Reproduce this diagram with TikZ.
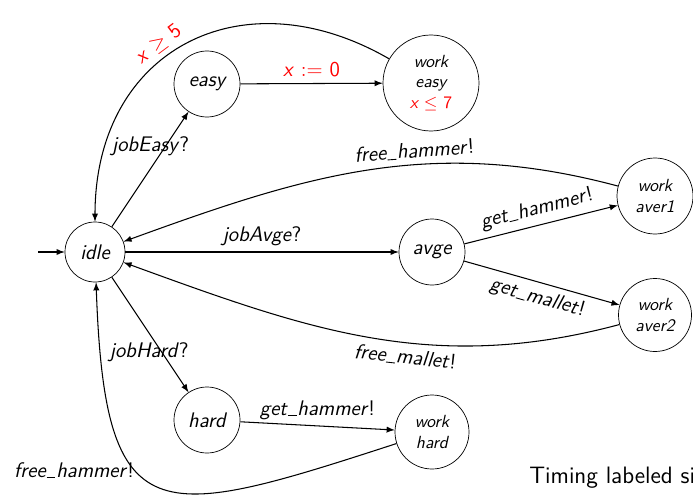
\documentclass[tikz,border=0pt]{standalone}
\usepackage{tikz}
\usetikzlibrary{calc}
\newcommand\act[1]{\textit{#1}}
\newcommand\us{\kern0.04em\rule[-0.4pt]{0.42em}{0.5pt}\kern0.04em}
\definecolor{guard}{rgb}{1.0, 0.0, 0.0}
\newcommand\guard[1]{{\color{guard}#1}}

\begin{document}
\begin{tikzpicture}[font=\fontsize{12}{14}\selectfont\sffamily,
  state/.style={draw,circle,inner sep=0pt,minimum size=#1,font=\fontsize{12}{14}\selectfont\sffamily\itshape},
  work/.style={state=#1,align=center,font=\fontsize{10}{11.5}\selectfont\sffamily\itshape},
  trans/.style={-latex,line width=0.6pt}]
\useasboundingbox (0,0) rectangle (13.86,-9.96);
\node[state=1.2cm] (idle) at (1.90,-5.04) {idle};
\node[state=1.32cm] (easy) at (4.14,-1.68) {easy};
\node[work=1.92cm] (weasy) at (8.62,-1.66) {work\\easy\\\guard{\upshape\itshape x \upshape$\leq$ 7}};
\node[state=1.32cm] (avge) at (8.64,-5.04) {avge};
\node[work=1.52cm] (waver1) at (13.10,-3.92) {work\\aver1};
\node[work=1.46cm] (waver2) at (13.10,-6.30) {work\\aver2};
\node[state=1.32cm] (hard) at (4.14,-8.40) {hard};
\node[work=1.48cm] (whard) at (8.64,-8.64) {work\\hard};
\coordinate (init) at (0.76,-5.04);
\node[anchor=base west,inner sep=0pt,font=\fontsize{13.5}{16}\selectfont\sffamily] (title) at (10.58,-9.66) {Timing labeled si};
\draw[trans] (init) -- (idle);
\draw[trans] (idle) -- node[pos=0.7,xshift=-0.3cm] {\act{jobEasy}?} (easy);
\draw[trans] (easy) -- node[above] {\guard{\act{x} $:=$ 0}} (weasy);
\draw[trans] (weasy) to[out=150,in=90,looseness=1.3]
  node[pos=0.56,sloped,above] {\guard{\act{x} $\geq$ 5}} (idle);
\draw[trans] (idle) -- node[above] {\act{jobAvge}?} (avge);
\draw[trans] (avge) -- node[sloped,above] {\act{get\us hammer}!} (waver1);
\draw[trans] (avge) -- node[sloped,below] {\act{get\us mallet}!} (waver2);
\draw[trans] (waver1) to[out=165,in=20]
  node[pos=0.4,sloped,above] {\act{free\us hammer}!} (idle);
\draw[trans] (waver2) to[out=195,in=-20]
  node[pos=0.42,sloped,below] {\act{free\us mallet}!} (idle);
\draw[trans] (idle) -- node[pos=0.65,xshift=-0.25cm] {\act{jobHard}?} (hard);
\draw[trans] (hard) -- node[above] {\act{get\us hammer}!} (whard);
\draw[trans] (whard) to[out=-162,in=-88,looseness=1.9] (idle);
\node (fh) at (1.48,-9.40) {\act{free\us hammer}!};
\end{tikzpicture}
\end{document}
